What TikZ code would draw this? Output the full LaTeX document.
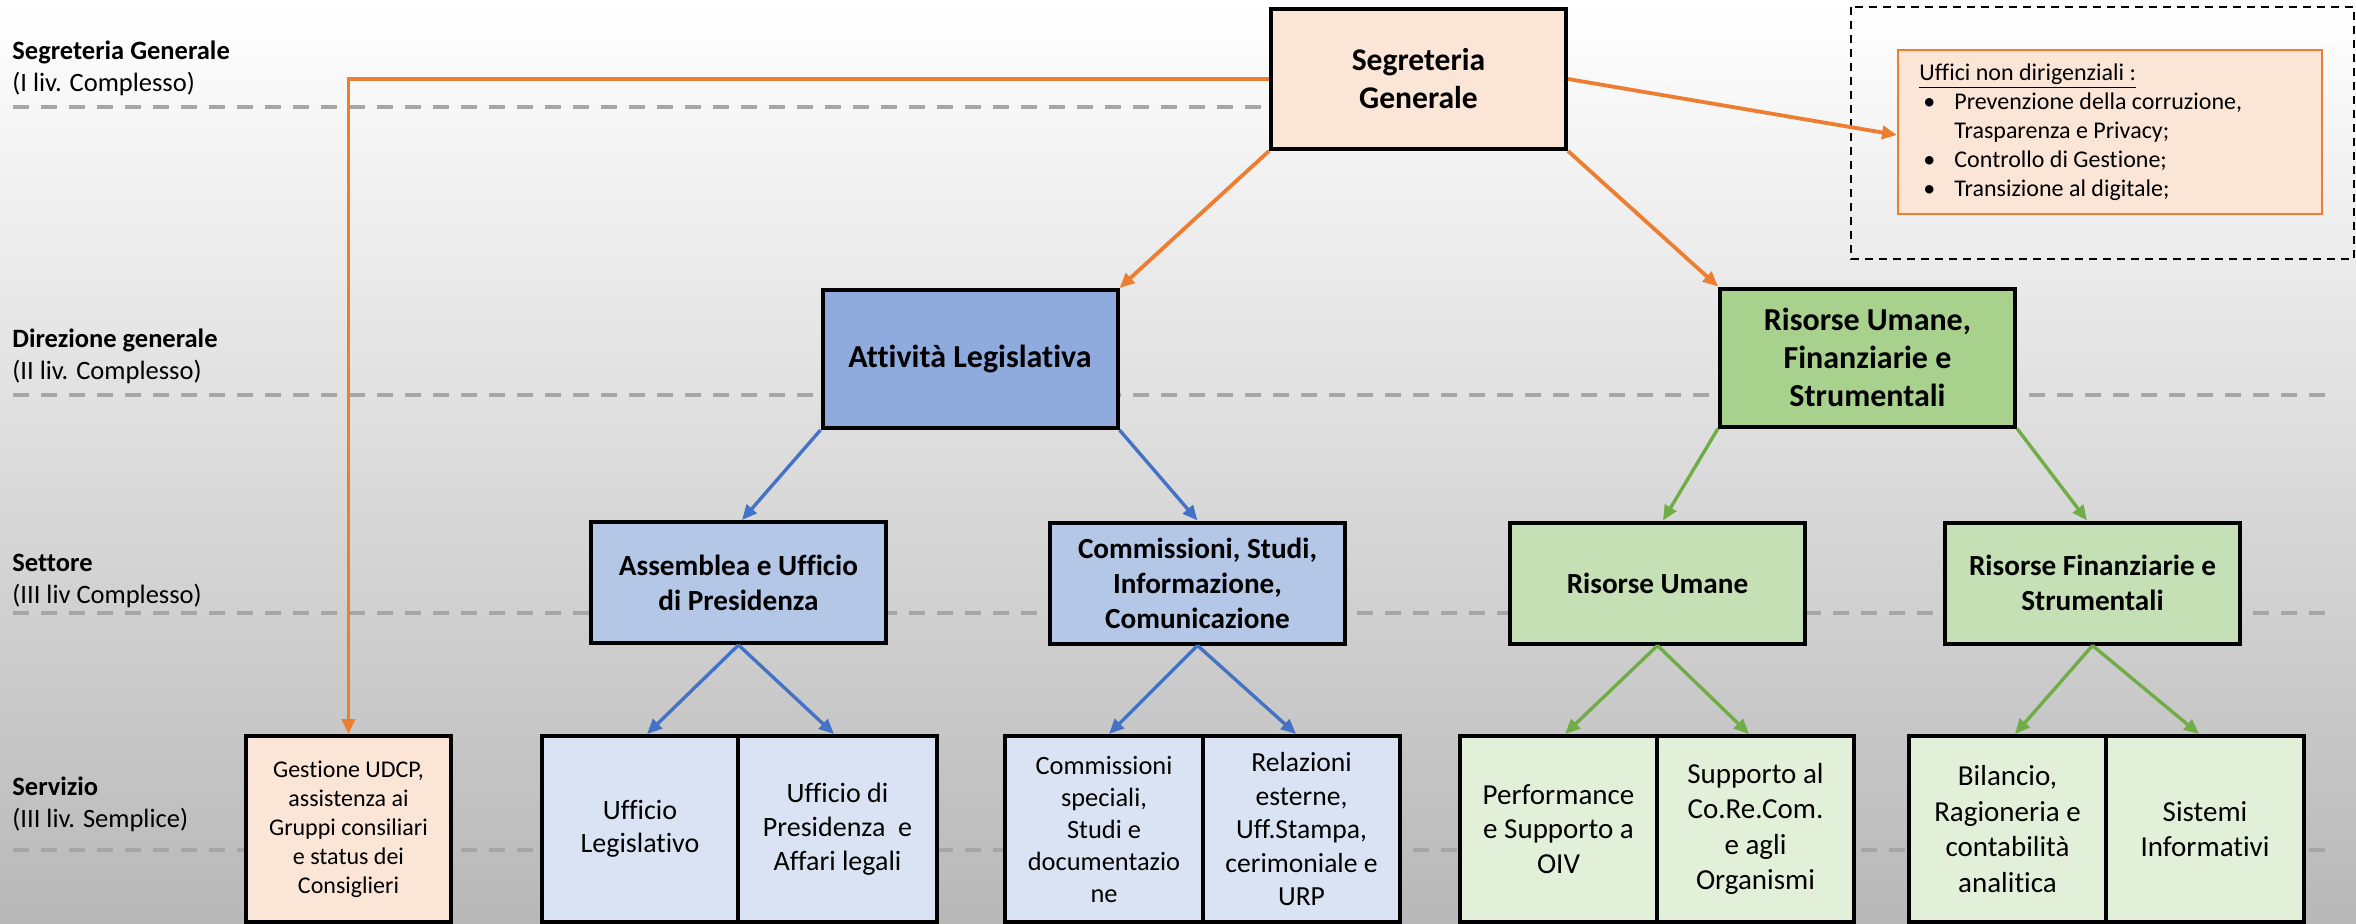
\documentclass[tikz,border=0pt]{standalone}
\usepackage{fontspec}
\setmainfont{Carlito}[Ligatures={NoCommon}]
\usetikzlibrary{arrows.meta,calc}
\definecolor{orng}{HTML}{ED7D31}
\definecolor{blu}{HTML}{4472C4}
\definecolor{grn}{HTML}{70AD47}
\definecolor{peach}{HTML}{FBE5D6}
\definecolor{bluetwo}{HTML}{8FAADC}
\definecolor{bluethree}{HTML}{B4C7E7}
\definecolor{bluefour}{HTML}{DAE3F3}
\definecolor{greentwo}{HTML}{A9D18E}
\definecolor{greenthree}{HTML}{C5E0B4}
\definecolor{greenfour}{HTML}{E2F0D9}
\definecolor{bgbot}{HTML}{B8B8B8}
\definecolor{dashgray}{HTML}{A6A6A6}
\begin{document}
\begin{tikzpicture}[x=0.5pt,y=-0.5pt,
  box/.style={draw=black, line width=2pt, inner sep=0pt, align=center},
  lvlone/.style={box, fill=peach, font=\fontsize{15.8pt}{19pt}\selectfont\bfseries, minimum width=147.5pt, minimum height=70pt},
  lvltwo/.style={box, font=\fontsize{16pt}{19pt}\selectfont\bfseries, minimum width=147.5pt, minimum height=69pt},
  lvlthree/.style={box, font=\fontsize{14.6pt}{17.5pt}\selectfont\bfseries, minimum width=147.5pt, minimum height=60.5pt},
  lvlfour/.style={box, minimum height=93pt},
  lvllabel/.style={anchor=west, align=left, inner sep=0pt, font=\fontsize{13.25pt}{16pt}\selectfont},
  levelline/.style={dashgray, line width=2pt, dash pattern=on 8pt off 6pt},
  conn/.style={line width=1.7pt, -{Triangle[length=7.5pt,width=6.5pt]}},
  oarrow/.style={conn, orng, line width=1.9pt},
  barrow/.style={conn, blu},
  garrow/.style={conn, grn}]
\useasboundingbox (0,0) rectangle (2356,923);
\shade[top color=white, bottom color=bgbot] (0,0) rectangle (2356,923);

% level lines
\draw[levelline] (13,107) -- (1271,107);
\draw[levelline] (13,395) -- (2325,395);
\draw[levelline] (13,613) -- (2325,613);
\draw[levelline] (13,850) -- (2325,850);

% level labels
\node[lvllabel] (lab1) at (12,68) {\textbf{Segreteria Generale}\\(I liv. Complesso)};
\node[lvllabel] (lab2) at (12,356.5) {\textbf{Direzione generale}\\(II liv. Complesso)};
\node[lvllabel] (lab3) at (12,580.5) {\textbf{Settore}\\(III liv Complesso)};
\node[lvllabel] (lab4) at (12,804) {\textbf{Servizio}\\(III liv. Semplice)};

% dashed frame
\draw[black, line width=1.1pt, dash pattern=on 4pt off 3pt] (1851,7) rectangle (2354,259);

% level 1
\node[lvlone] (sg) at (1418.5,79) {Segreteria\\Generale};
\node[draw=orng, line width=1pt, fill=peach, minimum width=212pt, minimum height=82pt, inner sep=0pt] (uffbox) at (2110,132) {};
\node[anchor=west, align=left, inner sep=0pt, font=\fontsize{12pt}{14.5pt}\selectfont] (ufftext) at (1919,132.5)
 {\underline{Uffici non dirigenziali :}\\
  \makebox[17.5pt][l]{\hspace{2pt}\textbullet}Prevenzione della corruzione,\\
  \hspace*{17.5pt}Trasparenza e Privacy;\\
  \makebox[17.5pt][l]{\hspace{2pt}\textbullet}Controllo di Gestione;\\
  \makebox[17.5pt][l]{\hspace{2pt}\textbullet}Transizione al digitale;};

% level 2
\node[lvltwo, fill=bluetwo] (attiv) at (970,359) {Attività Legislativa};
\node[lvltwo, fill=greentwo] (rufs) at (1867.5,357.5) {Risorse Umane,\\Finanziarie e\\Strumentali};

% level 3
\node[lvlthree, fill=bluethree] (assem) at (738.5,582.5) {Assemblea e Ufficio\\di Presidenza};
\node[lvlthree, fill=bluethree] (comm) at (1197.5,583) {Commissioni, Studi,\\Informazione,\\Comunicazione};
\node[lvlthree, fill=greenthree] (ru) at (1657.5,583) {Risorse Umane};
\node[lvlthree, fill=greenthree] (rfs) at (2092.5,583) {Risorse Finanziarie e\\Strumentali};

% level 4
\node[lvlfour, fill=peach, minimum width=102.5pt, font=\fontsize{12pt}{14.5pt}\selectfont] (gest) at (348.5,829) {Gestione UDCP,\\assistenza ai\\Gruppi consiliari\\e status dei\\Consiglieri};
\node[lvlfour, fill=bluefour, minimum width=98pt, font=\fontsize{14pt}{16.75pt}\selectfont] (uleg) at (640,829) {Ufficio\\Legislativo};
\node[lvlfour, fill=bluefour, minimum width=99.5pt, font=\fontsize{14pt}{17pt}\selectfont] (upres) at (837.5,829) {Ufficio di\\Presidenza~ e\\Affari legali};
\node[lvlfour, fill=bluefour, minimum width=99pt, font=\fontsize{13.2pt}{16pt}\selectfont] (cspec) at (1104,829) {Commissioni\\speciali,\\Studi e\\documentazio\\ne};
\node[lvlfour, fill=bluefour, minimum width=98.5pt, font=\fontsize{13.8pt}{16.75pt}\selectfont] (rel) at (1301.5,829) {Relazioni\\esterne,\\Uff.Stampa,\\cerimoniale e\\URP};
\node[lvlfour, fill=greenfour, minimum width=98.5pt, font=\fontsize{14.5pt}{17.25pt}\selectfont] (perf) at (1558.5,829) {Performance\\e Supporto a\\OIV};
\node[lvlfour, fill=greenfour, minimum width=98.5pt, font=\fontsize{14.5pt}{17.75pt}\selectfont] (supp) at (1755.5,829) {Supporto al\\Co.Re.Com.\\e agli\\Organismi};
\node[lvlfour, fill=greenfour, minimum width=98.5pt, font=\fontsize{14.5pt}{17.75pt}\selectfont] (bil) at (2007.5,829) {Bilancio,\\Ragioneria e\\contabilità\\analitica};
\node[lvlfour, fill=greenfour, minimum width=99pt, font=\fontsize{14.5pt}{17.75pt}\selectfont] (sist) at (2205,829) {Sistemi\\Informativi};

% orange connectors
\draw[oarrow] (sg.west) -| (gest.north);
\draw[oarrow] (sg.east) -- ([yshift=-1.5pt]uffbox.west);
\draw[oarrow] (sg.south west) -- (attiv.north east);
\draw[oarrow] (sg.south east) -- (rufs.north west);

% blue connectors
\draw[barrow] (attiv.south west) -- ([xshift=1.75pt]assem.north);
\draw[barrow] (attiv.south east) -- (comm.north);
\draw[barrow] (assem.south) -- ([xshift=3.5pt]uleg.north);
\draw[barrow] (assem.south) -- ([xshift=-1.75pt]upres.north);
\draw[barrow] (comm.south) -- ([xshift=2.5pt]cspec.north);
\draw[barrow] (comm.south) -- ([xshift=-2.75pt]rel.north);

% green connectors
\draw[garrow] (rufs.south west) -- ([xshift=2.75pt]ru.north);
\draw[garrow] (rufs.south east) -- ([xshift=-2.75pt]rfs.north);
\draw[garrow] (ru.south) -- ([xshift=3.25pt]perf.north);
\draw[garrow] (ru.south) -- ([xshift=-3.25pt]supp.north);
\draw[garrow] (rfs.south) -- ([xshift=3.75pt]bil.north);
\draw[garrow] (rfs.south) -- ([xshift=-3pt]sist.north);
\end{tikzpicture}
\end{document}
